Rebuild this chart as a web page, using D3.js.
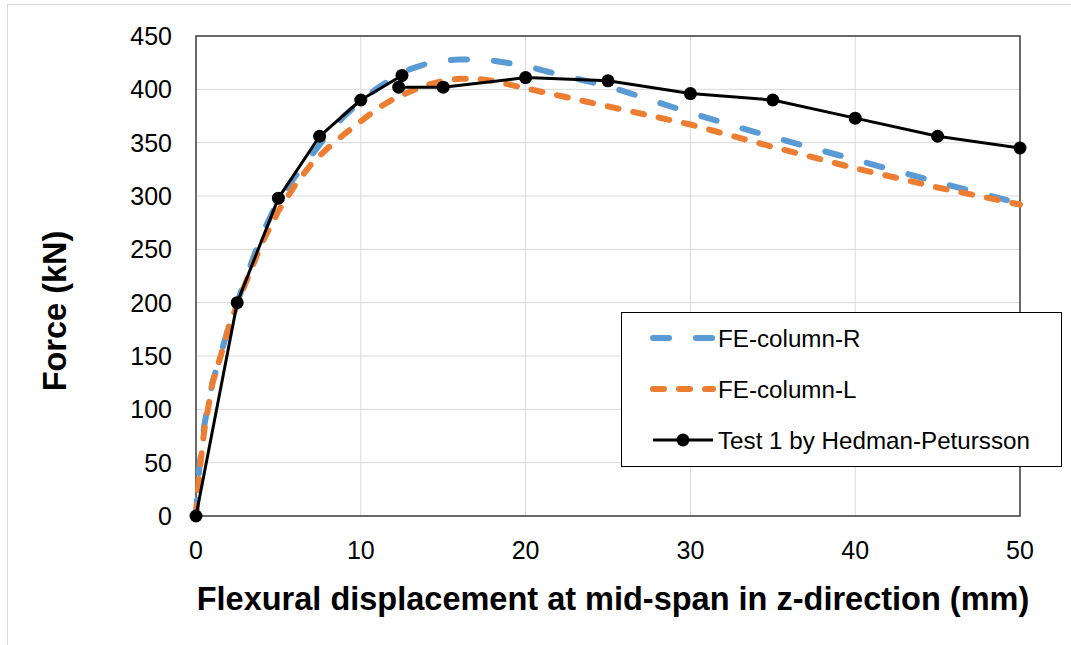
<!DOCTYPE html>
<html>
<head>
<meta charset="utf-8">
<script src="https://cdn.jsdelivr.net/npm/d3@7"></script>
<style>
  body { margin: 0; background: #fff; }
  svg { display: block; font-family: "Liberation Sans", Arial, sans-serif; }
  .grid line { stroke: #d9d9d9; stroke-width: 1; }
  .tick-label { font-size: 25px; fill: #000; }
  .axis-title { font-size: 32.5px; font-weight: bold; fill: #000; }
  .legend-text { font-size: 24.2px; fill: #000; }
</style>
</head>
<body>
<svg id="chart" width="1071" height="645"></svg>
<script>
// FE-column-R (blue, long dash)
const feRightX = [0, 0.2, 0.5, 1, 1.5, 2, 2.5, 3, 4, 5, 6, 7, 8, 9, 10, 11, 12, 13, 14, 15, 16, 17, 18, 20, 22, 25, 28, 30, 33, 36, 40, 45, 50];
const feRightY = [0, 45, 85, 125, 152, 178, 200, 222, 264, 296, 318, 338, 358, 375, 389, 401, 411, 419, 424, 427, 428, 428, 427, 422, 414, 403, 388, 378, 364, 351, 334, 313, 293];

// FE-column-L (orange, short dash)
const feLeftX = [0, 0.2, 0.5, 1, 1.5, 2, 2.5, 3, 4, 5, 6, 7, 8, 9, 10, 11, 12, 13, 14, 15, 16, 17, 18, 20, 25, 30, 35, 40, 45, 50];
const feLeftY = [0, 40, 80, 125, 150, 178, 198, 218, 256, 286, 310, 330, 345, 358, 370, 382, 391, 398, 404, 408, 410, 410, 408, 401, 384, 367, 346, 326, 308, 292];

// Test 1 by Hedman-Petursson (black, markers)
const testX = [0, 2.5, 5, 7.5, 10, 12.5, 12.3, 15, 20, 25, 30, 35, 40, 45, 50];
const testY = [0, 200, 298, 356, 390, 413, 402, 402, 411, 408, 396, 390, 373, 356, 345];

const xTicks = [0, 10, 20, 30, 40, 50];
const yTicks = [0, 50, 100, 150, 200, 250, 300, 350, 400, 450];

const seriesNames = ['FE-column-R', 'FE-column-L', 'Test 1 by Hedman-Petursson'];

const svg = d3.select('#chart');

const plot = {left: 196, right: 1020, top: 36, bottom: 516};

const xScale = d3.scaleLinear().domain([0, 50]).range([plot.left, plot.right]);
const yScale = d3.scaleLinear().domain([0, 450]).range([plot.bottom, plot.top]);

// outer chart border
svg.append('rect')
    .attr('x', 7.5).attr('y', 4.5)
    .attr('width', 1100).attr('height', 700)
    .attr('fill', 'none')
    .attr('stroke', '#d9d9d9');

// gridlines
const grid = svg.append('g').attr('class', 'grid');
grid.selectAll('.gx')
    .data(xTicks.slice(1, -1))
    .enter()
    .append('line')
    .attr('x1', d => xScale(d)).attr('x2', d => xScale(d))
    .attr('y1', plot.top).attr('y2', plot.bottom);
grid.selectAll('.gy')
    .data(yTicks.slice(1, -1))
    .enter()
    .append('line')
    .attr('x1', plot.left).attr('x2', plot.right)
    .attr('y1', d => yScale(d)).attr('y2', d => yScale(d));

// plot frame
svg.append('rect')
    .attr('x', plot.left).attr('y', plot.top)
    .attr('width', plot.right - plot.left)
    .attr('height', plot.bottom - plot.top)
    .attr('fill', 'none')
    .attr('stroke', '#3a3a3a')
    .attr('stroke-width', 1.5);

// tick labels
svg.selectAll('.xlab')
    .data(xTicks)
    .enter()
    .append('text')
    .attr('class', 'tick-label')
    .attr('x', d => xScale(d))
    .attr('y', 559)
    .attr('text-anchor', 'middle')
    .text(d => d);

svg.selectAll('.ylab')
    .data(yTicks)
    .enter()
    .append('text')
    .attr('class', 'tick-label')
    .attr('x', 172)
    .attr('y', d => yScale(d) + 9)
    .attr('text-anchor', 'end')
    .text(d => d);

// axis titles
svg.append('text')
    .attr('class', 'axis-title')
    .attr('x', 613).attr('y', 610)
    .attr('text-anchor', 'middle')
    .text('Flexural displacement at mid-span in z-direction (mm)');

svg.append('text')
    .attr('class', 'axis-title')
    .attr('transform', 'translate(66,311) rotate(-90)')
    .attr('text-anchor', 'middle')
    .text('Force (kN)');

// series
const line = d3.line()
    .x(d => xScale(d[0]))
    .y(d => yScale(d[1]));

const feRight = d3.zip(feRightX, feRightY);
const feLeft = d3.zip(feLeftX, feLeftY);
const test = d3.zip(testX, testY);

svg.append('path')
    .attr('d', line(feRight))
    .attr('fill', 'none')
    .attr('stroke', '#5b9bd5')
    .attr('stroke-width', 6)
    .attr('stroke-linecap', 'round')
    .attr('stroke-dasharray', '16 27');

svg.append('path')
    .attr('d', line(feLeft))
    .attr('fill', 'none')
    .attr('stroke', '#ed7d31')
    .attr('stroke-width', 6)
    .attr('stroke-linecap', 'round')
    .attr('stroke-dasharray', '11 15');

svg.append('path')
    .attr('d', line(test))
    .attr('fill', 'none')
    .attr('stroke', '#000')
    .attr('stroke-width', 3)
    .attr('stroke-linejoin', 'round');

svg.selectAll('.marker')
    .data(test)
    .enter()
    .append('circle')
    .attr('cx', d => xScale(d[0]))
    .attr('cy', d => yScale(d[1]))
    .attr('r', 6.5)
    .attr('fill', '#000');

// legend
const legend = svg.append('g').attr('transform', 'translate(621,312)');
legend.append('rect')
    .attr('x', 0.5).attr('y', 0.5)
    .attr('width', 440).attr('height', 154)
    .attr('fill', '#fff')
    .attr('stroke', '#000')
    .attr('stroke-width', 1);

const legendStyles = [
    {stroke: '#5b9bd5', width: 6, dash: '16 27', marker: false},
    {stroke: '#ed7d31', width: 6, dash: '11 15', marker: false},
    {stroke: '#000', width: 3, dash: null, marker: true}
];

seriesNames.forEach((name, i) => {
    const y = 26 + i * 51;
    const s = legendStyles[i];
    legend.append('line')
        .attr('x1', 32).attr('x2', 92)
        .attr('y1', y).attr('y2', y)
        .attr('stroke', s.stroke)
        .attr('stroke-width', s.width)
        .attr('stroke-linecap', s.marker ? 'butt' : 'round')
        .attr('stroke-dasharray', s.dash);
    if (s.marker) {
        legend.append('circle')
            .attr('cx', 62).attr('cy', y).attr('r', 6.5)
            .attr('fill', '#000');
    }
    legend.append('text')
        .attr('class', 'legend-text')
        .attr('x', 97).attr('y', y + 8.5)
        .text(name);
});
</script>
</body>
</html>
